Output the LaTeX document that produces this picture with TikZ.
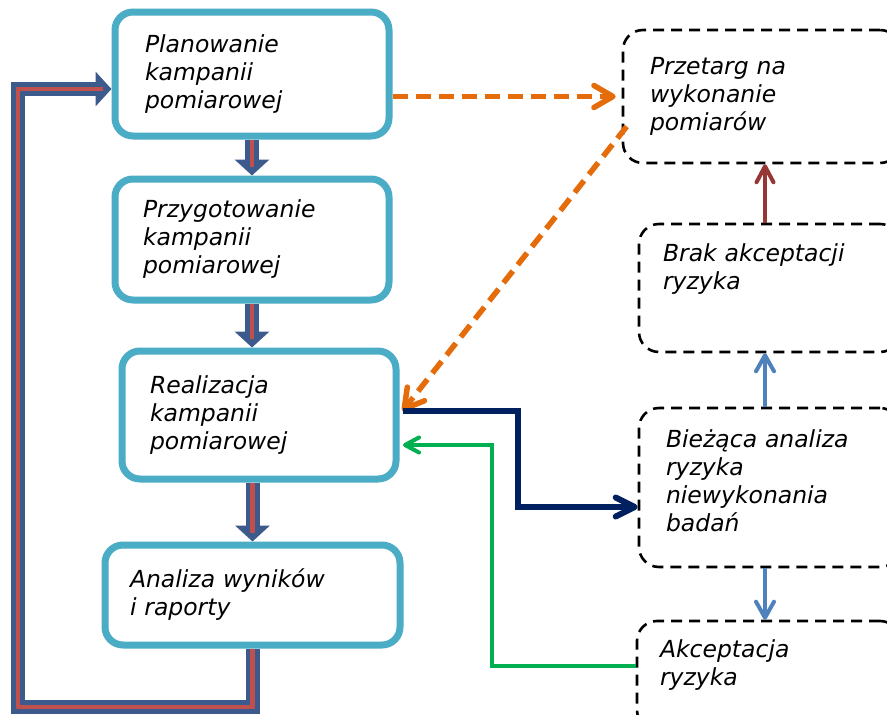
\documentclass[tikz,border=0pt]{standalone}
\usepackage{fontspec}
\newfontfamily\boxfont{DejaVu Sans Oblique}
\usetikzlibrary{arrows.meta,backgrounds,calc}

\definecolor{stageteal}{HTML}{4BACC6}
\definecolor{loopblue}{HTML}{3C5A8C}
\definecolor{loopred}{HTML}{C0504D}
\definecolor{tenderorange}{HTML}{E46C0A}
\definecolor{navyline}{HTML}{002060}
\definecolor{greenline}{HTML}{00B050}
\definecolor{blueline}{HTML}{4F81BD}
\definecolor{darkredline}{HTML}{953735}

\begin{document}
\begin{tikzpicture}[x=1pt,y=-1pt,
  boxtext/.style={align=left, inner ysep=0pt,
    font={\boxfont\fontsize{23.5pt}{28pt}\selectfont}},
  stage/.style={boxtext, draw=stageteal, line width=7pt,
    rounded corners=18pt, fill=white},
  option/.style={boxtext, draw=black, line width=2.6pt,
    dash pattern=on 11pt off 7pt, rounded corners=20pt, fill=white},
  flow/.style={draw=loopblue, line width=14pt, line join=miter,
    -{Triangle[width=34pt,length=16pt]}},
  flowcore/.style={draw=loopred, line width=4.5pt, line join=miter,
    shorten >=9pt},
  tenderarrow/.style={draw=tenderorange, line width=5.5pt,
    dash pattern=on 15pt off 8pt,
    -{Straight Barb[length=19pt,width=22pt,round]}},
  navyarrow/.style={draw=navyline, line width=6pt, line join=miter,
    -{Straight Barb[length=19pt,width=19pt,round]}},
  greenarrow/.style={draw=greenline, line width=4pt, line join=miter,
    -{Straight Barb[length=14pt,width=15pt,round]}},
  bluearrow/.style={draw=blueline, line width=4pt,
    -{Straight Barb[length=16pt,width=18pt,round]}},
  redarrow/.style={draw=darkredline, line width=4pt,
    -{Straight Barb[length=16pt,width=17pt,round]}}]

\useasboundingbox (0,0) rectangle (887,715);
\clip (0,0) rectangle (887,715);

% main stages of the campaign
\node[stage, minimum width=274pt, minimum height=124pt, text width=214pt,
  inner xsep=30pt] (plan) at (252,74) {Planowanie\\kampanii\\pomiarowej};
\node[stage, minimum width=274pt, minimum height=121pt, text width=218pt,
  inner xsep=28pt] (prep) at (252,239.5) {Przygotowanie\\kampanii\\pomiarowej};
\node[stage, minimum width=274pt, minimum height=128pt, text width=218pt,
  inner xsep=28pt] (real) at (259,415) {Realizacja\\kampanii\\pomiarowej};
\node[stage, minimum width=295pt, minimum height=100pt, text width=245pt,
  inner xsep=25pt] (anal) at (252.5,595) {Analiza wyników\\i raporty};

% side branch: tender and risk handling
\node[option, minimum height=133pt, text width=223pt, inner xsep=27pt]
  (tender) at (761.5,96.5) {Przetarg na\\wykonanie\\pomiarów};
\node[option, minimum height=128pt, text width=213pt, inner xsep=24pt]
  (reject) at (769.5,288) {Brak akceptacji\\ryzyka\\[14pt]\mbox{}};
\node[option, minimum height=159pt, text width=207pt, inner xsep=27pt]
  (risk) at (769.5,487.5) {Bieżąca analiza\\ryzyka\\niewykonania\\badań\\[-15pt]\mbox{}};
\node[option, minimum height=109pt, text width=217pt, inner xsep=23pt]
  (accept) at (768.5,675.5) {Akceptacja\\ryzyka\\[-3pt]\mbox{}};

\coordinate (loopbottom) at (18,707);
\coordinate (looptop) at (18,89);
\coordinate (navybend) at (518,507);
\coordinate (greenbend) at (492,445);
\coordinate (colx) at (765,0);

\begin{scope}[on background layer]
  \fill[white] (0,0) rectangle (887,715);
  % main flow with its return loop
  \draw[flow] (plan.south) -- (prep.north);
  \draw[flowcore] (plan.south) -- (prep.north);
  \draw[flow] (prep.south) -- (prep.south |- real.north);
  \draw[flowcore] (prep.south) -- (prep.south |- real.north);
  \draw[flow] (anal.north |- real.south) -- (anal.north);
  \draw[flowcore] (anal.north |- real.south) -- (anal.north);
  \draw[flow] (anal.south) |- (loopbottom) -- (looptop) -- (looptop -| plan.west);
  \draw[flowcore] (anal.south) |- (loopbottom) -- (looptop) -- (looptop -| plan.west);
\end{scope}

% tender loop
\draw[tenderarrow, shorten >=6pt] (plan.east |- tender.west) -- (tender.west);
\draw[tenderarrow] ($(tender.west)+(5,30)$) -- ($(real.east)+(3,-4)$);

% risk analysis
\draw[navyarrow] ($(real.east)+(3.5,-4)$) -| (navybend) -- (navybend -| risk.west);
\draw[greenarrow] ($(accept.west)+(0,-9.5)$) -| (greenbend)
  -- ($(greenbend -| real.east)+(3.5,0)$);
\draw[bluearrow] (risk.north -| colx) -- (reject.south -| colx);
\draw[bluearrow] (risk.south -| colx) -- (accept.north -| colx);
\draw[redarrow] (reject.north -| colx) -- (tender.south -| colx);

\end{tikzpicture}
\end{document}
